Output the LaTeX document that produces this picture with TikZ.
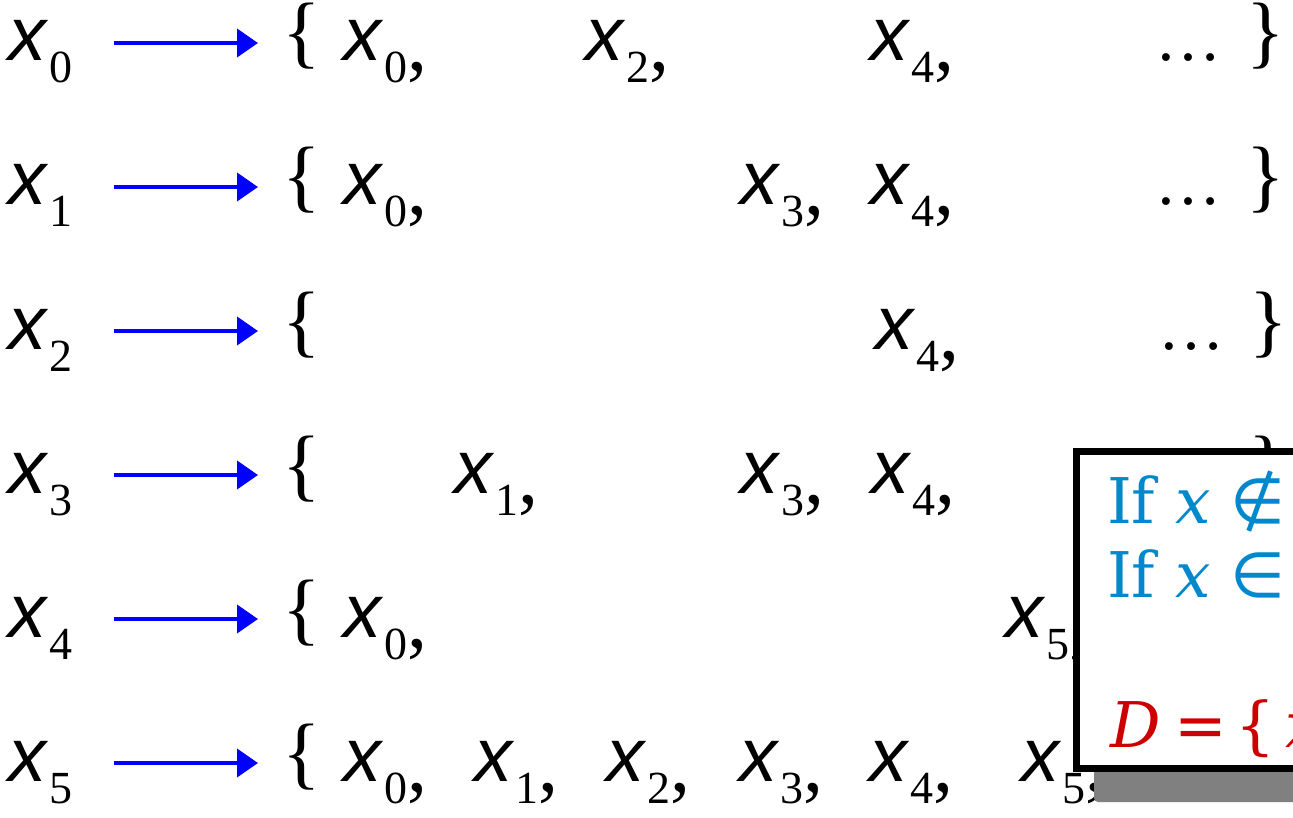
\documentclass[tikz,border=0pt]{standalone}
\usepackage{fontspec}
\setmainfont{DejaVu Sans}
\newfontfamily\xf{Liberation Sans}
\newfontfamily\digf{Liberation Serif}
\newfontfamily\boxf{DejaVu Serif}
\newfontfamily\symf{DejaVu Sans}
\usetikzlibrary{arrows.meta}
\definecolor{arrblue}{RGB}{0,0,255}
\definecolor{txtblue}{RGB}{0,136,204}
\definecolor{txtred}{RGB}{204,0,0}
\definecolor{shadowgray}{RGB}{128,128,128}
\newcommand\xv[1]{{\xf\fontsize{76}{76}\selectfont\itshape x}\kern3pt{\digf\fontsize{46}{46}\selectfont\raisebox{-22pt}{#1}}}
\newcommand\xc[1]{\xv{#1}{\digf\fontsize{80}{80}\selectfont\raisebox{-10pt}{,}}}
\newcommand\brc[1]{{\digf\fontsize{80}{80}\selectfont\raisebox{2pt}{#1}}}
\newcommand\dts{{\digf\fontsize{66}{66}\selectfont\char"2026}}
\begin{document}
\begin{tikzpicture}[x=1pt,y=-1pt,
  t/.style={anchor=base west,inner sep=0pt,outer sep=0pt},
  arr/.style={draw=arrblue,line width=4pt,-{Triangle[length=21pt,width=28pt]}},
  bt/.style={anchor=base west,inner sep=0pt,outer sep=0pt,text=txtblue,font=\boxf\fontsize{63}{63}\selectfont},
  rt/.style={anchor=base west,inner sep=0pt,outer sep=0pt,text=txtred,font=\boxf\fontsize{63}{63}\selectfont},
  boxframe/.style={draw=black,line width=7pt,fill=white},
  shadowbox/.style={fill=shadowgray,rounded corners=4pt}]
\useasboundingbox (0,0) rectangle (1293,818);
\clip (0,0) rectangle (1293,818);
% labels, braces, arrows
\foreach \i in {0,...,5}{
  \node[t] (l\i) at (9,61+144*\i) {\xv{\i}};
  \node[t] (b\i) at (282,61+144*\i) {\brc{\{}};
  \draw[arr] ([xshift=41pt,yshift=18pt]l\i.base east) -- ([xshift=-24pt,yshift=18pt]b\i.base west);
}
% row 0
\node[t] (r0a) at (343,61) {\xc{0}};
\node[t] (r0b) at (585,61) {\xc{2}};
\node[t] (r0c) at (870,61) {\xc{4}};
\node[t] (r0d) at (1155,61) {\dts};
\node[t] (r0e) at (1246,61) {\brc{\}}};
% row 1
\node[t] (r1a) at (343,205) {\xc{0}};
\node[t] (r1b) at (740,205) {\xc{3}};
\node[t] (r1c) at (870,205) {\xc{4}};
\node[t] (r1d) at (1155,205) {\dts};
\node[t] (r1e) at (1246,205) {\brc{\}}};
% row 2
\node[t] (r2c) at (875,349) {\xc{4}};
\node[t] (r2d) at (1158,349) {\dts};
\node[t] (r2e) at (1249,349) {\brc{\}}};
% row 3
\node[t] (r3a) at (454,493) {\xc{1}};
\node[t] (r3b) at (740,493) {\xc{3}};
\node[t] (r3c) at (871,493) {\xc{4}};
\node[t] (r3e) at (1248,493) {\brc{\}}};
% row 4
\node[t] (r4a) at (343,637) {\xc{0}};
\node[t] (r4b) at (1005,637) {\xc{5}};
% row 5
\node[t] (r5a) at (343,781) {\xc{0}};
\node[t] (r5b) at (474,781) {\xc{1}};
\node[t] (r5c) at (606,781) {\xc{2}};
\node[t] (r5d) at (739,781) {\xc{3}};
\node[t] (r5e) at (869,781) {\xc{4}};
\node[t] (r5f) at (1021,781) {\xc{5}};
% box
\fill[shadowbox] (1094,500) rectangle (1420,802);
\draw[boxframe] (1076,451) rectangle (1420,768);
\node[bt] (c1) at (1107,523) {If \textit{x} {\symf\char"2209}};
\node[bt] (c2) at (1107,597) {If \textit{x} {\symf\char"2208}};
\node[rt] (c3) at (1110,747) {\textit{D}\kern14pt{\symf =}\kern8pt\{\kern10pt\textit{x}};
\end{tikzpicture}
\end{document}
